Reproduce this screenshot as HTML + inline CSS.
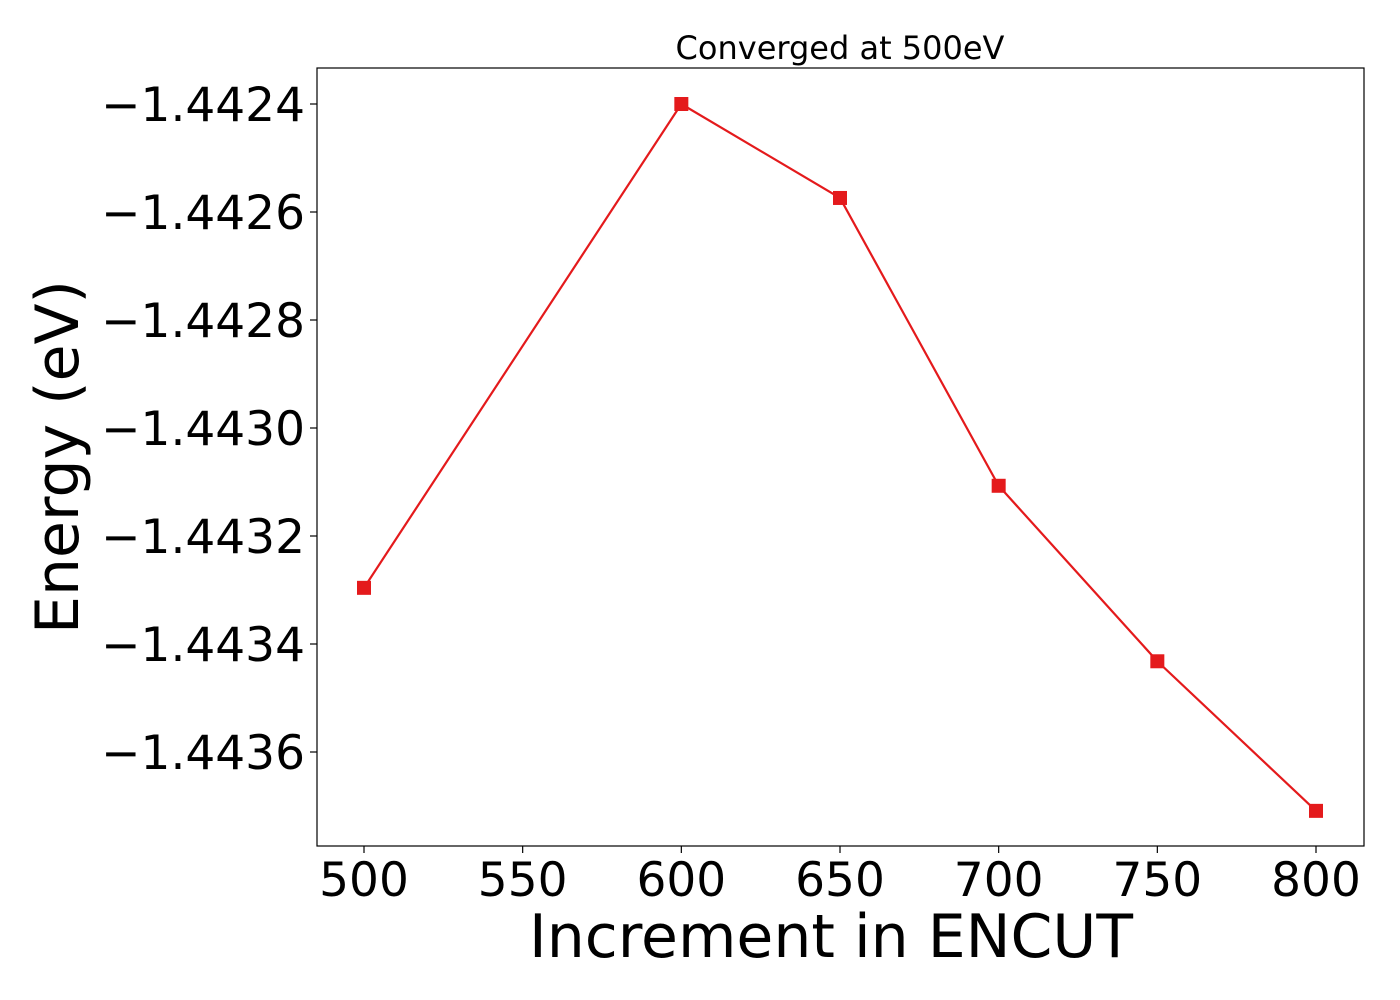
<!DOCTYPE html>
<html><head><meta charset="utf-8"><style>
body{margin:0;background:#fff;}
svg{display:block;font-family:"DejaVu Sans","Liberation Sans",sans-serif;}
</style></head><body>
<svg id="chart" width="1400" height="1000" viewBox="0 0 1400 1000" xmlns="http://www.w3.org/2000/svg">
<rect width="1400" height="1000" fill="#fff"/>
<g id="axes"></g>
<g id="series"></g>
</svg>
<script>
const categories = [500, 600, 650, 700, 750, 800];
const energies = [-1.443296, -1.4424, -1.442574, -1.443107, -1.443432, -1.443709];
const xTicks = [500, 550, 600, 650, 700, 750, 800];
const yTicks = [-1.4424, -1.4426, -1.4428, -1.4430, -1.4432, -1.4434, -1.4436];
const yTickLabels = ["\u22121.4424","\u22121.4426","\u22121.4428","\u22121.4430","\u22121.4432","\u22121.4434","\u22121.4436"];

const L=317,R=1364,T=68,B=846;
function xs(v){return 364+(v-500)*(1316-364)/300;}
function ys(v){return 104+(-1.4424-v)/0.0012*648;}
const NS="http://www.w3.org/2000/svg";
function mk(tag,attrs,parent){const e=document.createElementNS(NS,tag);for(const k in attrs)e.setAttribute(k,attrs[k]);parent.appendChild(e);return e;}
const axes=document.getElementById('axes'), series=document.getElementById('series');

const frame=mk('rect',{x:L,y:T,width:R-L,height:B-T,fill:'none',stroke:'#000','stroke-width':1.2},axes);



xTicks.forEach(v=>{
  const x=xs(v);
  const t=mk('line',{x1:x,x2:x,y1:B,y2:B+7,stroke:'#000','stroke-width':1.2},axes);
  
  
  const lb=mk('text',{x:x,y:B+50,'font-size':47,'text-anchor':'middle',fill:'#000'},axes);
  lb.textContent=v;
  
  
});
yTicks.forEach((v,i)=>{
  const y=ys(v);
  const t=mk('line',{x1:L-7,x2:L,y1:y,y2:y,stroke:'#000','stroke-width':1.2},axes);
  
  
  const lb=mk('text',{x:L-12,y:y+17,'font-size':47,'text-anchor':'end',fill:'#000'},axes);
  lb.textContent=yTickLabels[i];
  
  
});

const title=mk('text',{x:840,y:59,'font-size':32,'text-anchor':'middle',fill:'#000'},axes);
title.textContent='Converged at 500eV';


const xl=mk('text',{x:831,y:957,'font-size':60,'text-anchor':'middle',fill:'#000'},axes);
xl.textContent='Increment in ENCUT';


const yl=mk('text',{x:0,y:0,'font-size':60,'text-anchor':'middle',fill:'#000',transform:'translate(78,457) rotate(-90)'},axes);
yl.textContent='Energy (eV)';



const pts=categories.map((c,i)=>xs(c)+','+ys(energies[i])).join(' ');
const line=mk('polyline',{points:pts,fill:'none',stroke:'#e41a1c','stroke-width':2.2},series);


categories.forEach((c,i)=>{
  const m=mk('rect',{x:xs(c)-7,y:ys(energies[i])-7,width:14,height:14,fill:'#e41a1c'},series);
  
  
});
</script>
</body></html>
